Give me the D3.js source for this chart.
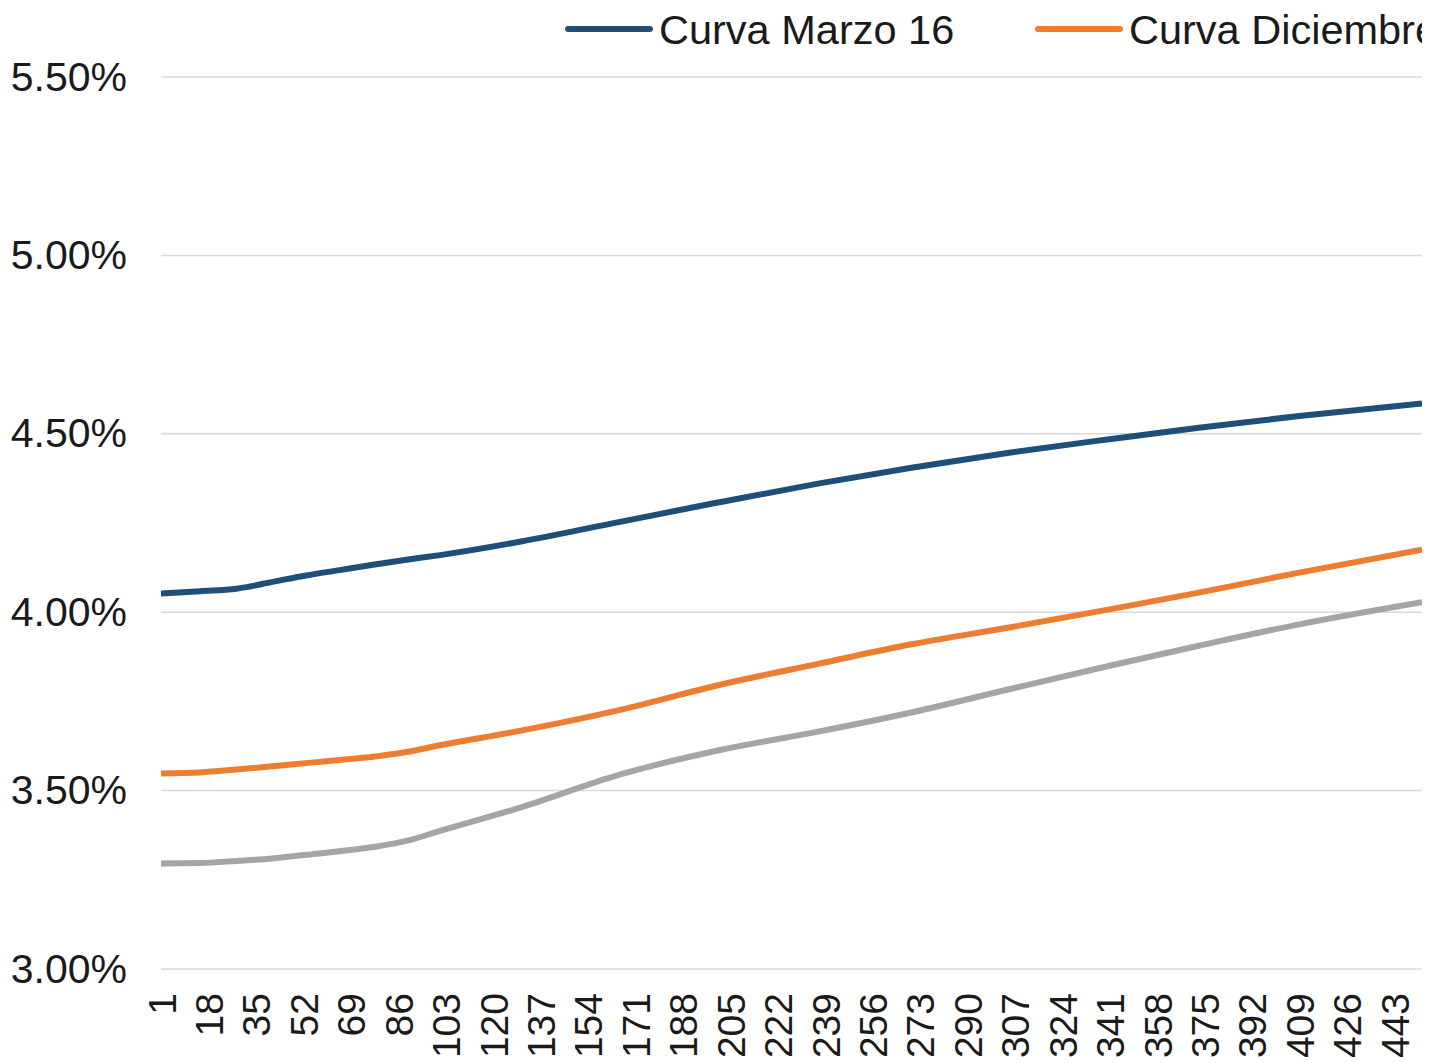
<!DOCTYPE html>
<html>
<head>
<meta charset="utf-8">
<script src="https://cdn.jsdelivr.net/npm/d3@7"></script>
<style>
  body { margin: 0; background: #fff; }
  text { font-family: "Liberation Sans", Arial, sans-serif; fill: #1a1a1a; }
</style>
</head>
<body>
<svg id="chart" width="1444" height="1063"></svg>
<script>
// series names / colours
const seriesNames = ["Curva Marzo 16", "Curva Diciembre", ""];
const seriesColors = ["#1f4e79", "#ed7d31", "#a5a5a5"];

const days = [1, 15, 28, 41, 53, 65, 77, 89, 101, 130, 166, 201, 237, 270, 305, 341, 373, 409, 453];

// rates in %
const marzo = [4.052, 4.059, 4.066, 4.085, 4.103, 4.118, 4.133, 4.147, 4.160, 4.198, 4.254, 4.308, 4.361, 4.405, 4.447, 4.485, 4.517, 4.550, 4.585];
const diciembre = [3.548, 3.551, 3.559, 3.568, 3.577, 3.586, 3.595, 3.608, 3.627, 3.668, 3.727, 3.796, 3.856, 3.910, 3.957, 4.008, 4.055, 4.111, 4.175];
const tercera = [3.296, 3.297, 3.303, 3.310, 3.320, 3.330, 3.342, 3.359, 3.387, 3.453, 3.546, 3.613, 3.666, 3.719, 3.784, 3.850, 3.906, 3.966, 4.028];

// axis labels
const xTicks = [1, 18, 35, 52, 69, 86, 103, 120, 137, 154, 171, 188, 205, 222, 239, 256, 273, 290, 307, 324, 341, 358, 375, 392, 409, 426, 443];
const yTicks = [3.0, 3.5, 4.0, 4.5, 5.0, 5.5];

const plotLeft = 161, plotRight = 1422, plotTop = 77, plotBottom = 969;

const svg = d3.select("#chart");

const x = d3.scaleLinear().domain([1, 453]).range([plotLeft, plotRight]);
const y = d3.scaleLinear().domain([3, 5.5]).range([plotBottom, plotTop]);

svg.append("clipPath").attr("id", "clip")
  .append("rect").attr("x", 0).attr("y", 0).attr("width", plotRight).attr("height", 1063);

const root = svg.append("g").attr("clip-path", "url(#clip)");

// gridlines
root.append("g")
  .selectAll("line")
  .data(yTicks)
  .join("line")
  .attr("x1", plotLeft).attr("x2", plotRight)
  .attr("y1", d => y(d)).attr("y2", d => y(d))
  .attr("stroke", "#d9d9d9")
  .attr("stroke-width", 1.5);

// y axis
const yAxis = root.append("g")
  .attr("transform", `translate(${plotLeft},0)`)
  .call(d3.axisLeft(y).tickValues(yTicks).tickSize(0).tickPadding(34)
    .tickFormat(d => d.toFixed(2) + "%"));
yAxis.select(".domain").remove();
yAxis.selectAll("text")
  .style("font-size", "41px")
  .attr("fill", "#1a1a1a");

// x axis, rotated labels
const xAxis = root.append("g")
  .attr("transform", `translate(0,${plotBottom})`)
  .call(d3.axisBottom(x).tickValues(xTicks).tickSize(0).tickFormat(d => d));
xAxis.select(".domain").remove();
xAxis.selectAll("text")
  .style("font-size", "39px")
  .attr("fill", "#1a1a1a")
  .attr("text-anchor", "end")
  .attr("transform", "rotate(-90)")
  .attr("x", -24)
  .attr("y", 0)
  .attr("dy", "0.36em");

// lines
const allSeries = [marzo, diciembre, tercera];
const line = d3.line()
  .x((d, i) => x(days[i]))
  .y(d => y(d))
  .curve(d3.curveMonotoneX);

root.append("g")
  .selectAll("path")
  .data(allSeries)
  .join("path")
  .attr("d", line)
  .attr("fill", "none")
  .attr("stroke", (d, i) => seriesColors[i])
  .attr("stroke-width", 6);

// legend (only the first two fit)
const legendX = [568, 1038];
const legend = root.append("g")
  .selectAll("g")
  .data(seriesNames.slice(0, 2))
  .join("g")
  .attr("transform", (d, i) => `translate(${legendX[i]},29)`);
legend.append("line")
  .attr("x1", 0).attr("x2", 82)
  .attr("stroke", (d, i) => seriesColors[i])
  .attr("stroke-width", 6)
  .attr("stroke-linecap", "round");
legend.append("text")
  .attr("x", 91)
  .attr("dy", "0.36em")
  .style("font-size", "41.5px")
  .text(d => d);
</script>
</body>
</html>
